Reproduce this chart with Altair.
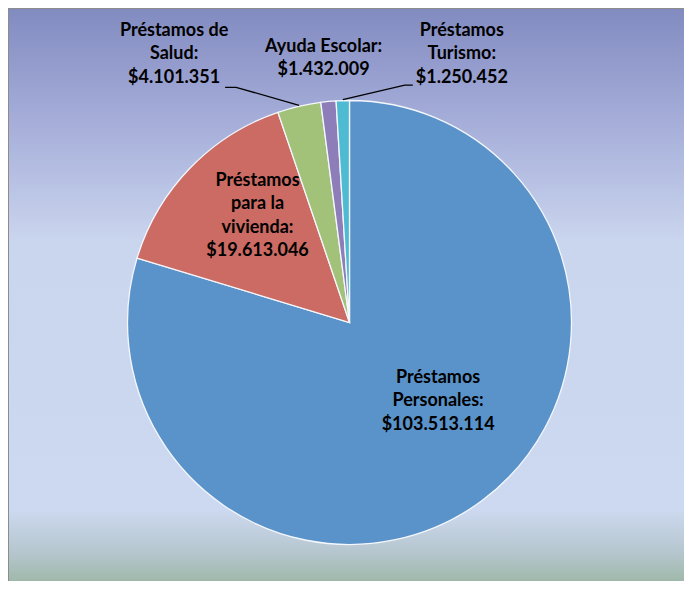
import altair as alt

# ---- data ----
categories = ["Préstamos Personales", "Préstamos para la vivienda", "Préstamos de Salud",
              "Ayuda Escolar", "Préstamos Turismo"]
values = [103513114, 19613046, 4101351, 1432009, 1250452]
labels = ["Préstamos\nPersonales:\n$103.513.114",
          "Préstamos\npara la\nvivienda:\n$19.613.046",
          "Préstamos de\nSalud:\n$4.101.351",
          "Ayuda Escolar:\n$1.432.009",
          "Préstamos\nTurismo:\n$1.250.452"]
colors = ["#5A93C9", "#CC6B63", "#A2C27A", "#8D7DB8", "#4FBBD2"]

# ---- layout (pixels) ----
W, H = 676, 573
CX, CY, R = 341.5, 314.5, 222
FONT = "Lato"
FS = 18
LH = 23.5

# label placement: (radius along mid-angle, dx, dy) of the label block centre
label_place = {
    "Préstamos Personales": (116, 19.5, -14.5),
    "Préstamos para la vivienda": (140, 8.7, -9.2),
    "Préstamos de Salud": (R, -125, -52),
    "Ayuda Escolar": (R, -4.8, -43),
    "Préstamos Turismo": (R, 119, -46.5),
}
# leader line points relative to slice edge point
leaders = {
    "Préstamos de Salud": ([0, -63, -74], [-1, -19, -19]),
    "Préstamos Turismo": ([0, 62, 70], [-1, -15.5, -15.5]),
}

records = []
for i, (c, v, l) in enumerate(zip(categories, values, labels)):
    rho, ox, oy = label_place[c]
    ldx, ldy = leaders.get(c, ([], []))
    records.append({"category": c, "value": v, "label": l, "idx": i,
                    "nlines": len(l.split("\n")),
                    "lrho": rho, "lox": ox, "loy": oy,
                    "ldx": ldx, "ldy": ldy, "li": list(range(len(ldx))),
                    "has_leader": len(ldx) > 0})

data = alt.InlineData(values=records)

def geom(ch):
    return (ch.transform_joinaggregate(total="sum(value)")
              .transform_window(cum="sum(value)", sort=[alt.SortField("idx")], frame=[None, 0])
              .transform_calculate(mid="(datum.cum - datum.value/2) / datum.total * 2 * PI"))

grad = alt.Gradient(
    gradient="linear", x1=0, x2=0, y1=0, y2=1,
    stops=[alt.GradientStop(offset=0, color="#828BC0"),
           alt.GradientStop(offset=0.17, color="#A1A9D6"),
           alt.GradientStop(offset=0.40, color="#CAD5EE"),
           alt.GradientStop(offset=0.86, color="#CCD9F0"),
           alt.GradientStop(offset=0.93, color="#B7C7D0"),
           alt.GradientStop(offset=1, color="#98B49F")])

bg = alt.Chart(alt.InlineData(values=[{"a": 1}])).mark_rect(
    color=grad, stroke="#8C8C8C", strokeWidth=2
).encode(x=alt.value(0), x2=alt.value(W + 10), y=alt.value(0), y2=alt.value(H + 10))

pie = alt.Chart(data).mark_arc(outerRadius=R, stroke="#F4F7FC", strokeWidth=1.3).encode(
    theta=alt.Theta("value:Q", stack=True),
    color=alt.Color("category:N", scale=alt.Scale(domain=categories, range=colors), legend=None),
    order=alt.Order("idx:Q", sort="ascending"),
    x=alt.value(CX), y=alt.value(CY),
)

text = geom(alt.Chart(data)).transform_calculate(
    lx=f"{CX} + datum.lrho * sin(datum.mid) + datum.lox",
    ly=f"{CY} - datum.lrho * cos(datum.mid) + datum.loy - (datum.nlines - 1) * {LH} / 2",
).mark_text(font=FONT, fontSize=FS, fontWeight="bold", color="#000000",
            align="center", baseline="middle", lineBreak="\n", lineHeight=LH).encode(
    x=alt.X("lx:Q", scale=None, axis=None),
    y=alt.Y("ly:Q", scale=None, axis=None),
    text="label:N",
)

lead = geom(alt.Chart(data)).transform_filter("datum.has_leader").transform_flatten(
    ["ldx", "ldy", "li"]
).transform_calculate(
    px=f"{CX} + {R} * sin(datum.mid) + datum.ldx",
    py=f"{CY} - {R} * cos(datum.mid) + datum.ldy",
).mark_line(color="#000000", strokeWidth=1.3).encode(
    x=alt.X("px:Q", scale=None, axis=None),
    y=alt.Y("py:Q", scale=None, axis=None),
    detail="category:N",
    order=alt.Order("li:Q"),
)

chart = alt.layer(bg, pie, lead, text).properties(
    width=W, height=H, padding=0, autosize="none", background="white"
).configure_view(stroke=None)

chart.save("out.html", embed_options={"renderer": "svg", "actions": False})
